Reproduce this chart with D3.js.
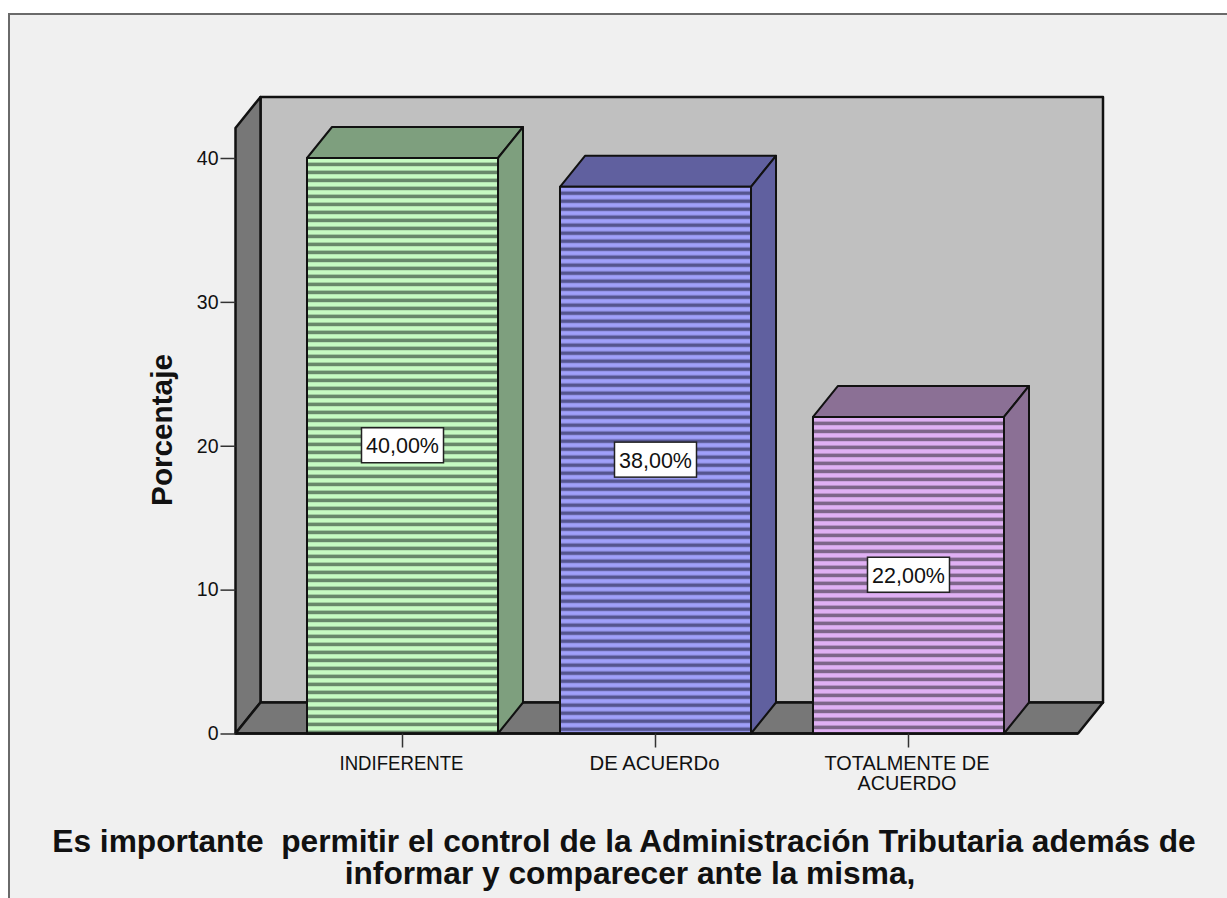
<!DOCTYPE html>
<html><head><meta charset="utf-8">
<script src="https://cdn.jsdelivr.net/npm/d3@7"></script>
<style>html,body{margin:0;padding:0;background:#fff}svg{display:block}text{font-family:"Liberation Sans",Arial,sans-serif}</style>
</head><body><div id="c"></div>
<script>
const categories=["INDIFERENTE","DE ACUERDo","TOTALMENTE DE ACUERDO"];
const categoryLines=[["INDIFERENTE"],["DE ACUERDo"],["TOTALMENTE DE","ACUERDO"]];
const categoryLineWidths=[[124],[130],[165,99]];
const values=[40,38,22];
const valueLabels=["40,00%","38,00%","22,00%"];
const yTicks=[0,10,20,30,40];
const lightColors=["#c6fac2","#a0a0fa","#e0b0f4"];
const darkColors=["#68876a","#55558f","#7d6589"];
const sideColors=["#7e9f7e","#60609f","#8b7095"];
const titleLines=["Es importante  permitir el control de la Administración Tributaria además de","informar y comparecer ante la misma,"];
const titleCenters=[624,630];
const yTitle="Porcentaje";

const W=1227,H=898,dx=25,dy=-31;
const svg=d3.select("#c").append("svg").attr("width",W).attr("height",H);
svg.append("rect").attr("x",9).attr("y",14).attr("width",W).attr("height",H).attr("fill","#f0f0f0").attr("stroke","#6a6a6a").attr("stroke-width",2);

const y=d3.scaleLinear().domain([0,40]).range([733.5,158]);
const x=d3.scaleBand().domain(categories).range([243.75,1067.25]).paddingInner(0.245).paddingOuter(0.25);
const frontL=235.5,frontR=1078,yTopFront=128;
const st="#111";
const poly=(pts,fill,sw=2)=>svg.append("polygon").attr("points",pts.map(p=>p.join(",")).join(" ")).attr("fill",fill).attr("stroke",st).attr("stroke-width",sw).attr("stroke-linejoin","round");

const defs=svg.append("defs");
categories.forEach((c,i)=>{
  const p=defs.append("pattern").attr("id","st"+i).attr("patternUnits","userSpaceOnUse").attr("width",8).attr("height",8).attr("y",y(values[i])+1);
  p.append("rect").attr("width",8).attr("height",8).attr("fill",lightColors[i]);
  p.append("rect").attr("y",3.6).attr("width",8).attr("height",3.6).attr("fill",darkColors[i]);
});

// walls
const b0=y(0), t0=yTopFront, backR=W-124;
poly([[frontL+dx,t0+dy],[backR,t0+dy],[backR,b0+dy],[frontL+dx,b0+dy]],"#c0c0c0",2.5);
poly([[frontL,t0],[frontL+dx,t0+dy],[frontL+dx,b0+dy],[frontL,b0]],"#777777",2.5);
poly([[frontL,b0],[frontL+dx,b0+dy],[backR,b0+dy],[frontR,b0]],"#777777",2.5);

// bars
categories.forEach((c,i)=>{
  const l=x(c),r=l+x.bandwidth(),t=y(values[i]);
  poly([[l,t],[l+dx,t+dy],[r+dx,t+dy],[r,t]],sideColors[i]);
  poly([[r,t],[r+dx,t+dy],[r+dx,b0+dy],[r,b0]],sideColors[i]);
  poly([[l,t],[r,t],[r,b0],[l,b0]],`url(#st${i})`);
});
svg.append("line").attr("x1",frontL).attr("x2",frontR).attr("y1",b0).attr("y2",b0).attr("stroke",st).attr("stroke-width",2.5);

// y axis
const ya=svg.append("g").attr("transform",`translate(${frontL},0)`).call(d3.axisLeft(y).tickValues(yTicks).tickSize(15).tickPadding(2).tickFormat(d3.format("d")));
ya.select(".domain").remove();
ya.selectAll("line").attr("stroke","#333").attr("stroke-width",1.5);
ya.selectAll("text").attr("font-size",19.5).attr("fill","#111").style("font-family",'"Liberation Sans",Arial,sans-serif');
svg.append("text").attr("transform","translate(171.5,430) rotate(-90)").attr("text-anchor","middle").attr("font-size",29.7).attr("font-weight","bold").attr("fill","#111").text(yTitle);

// x axis
categories.forEach((c,i)=>{
  const cx=x(c)+x.bandwidth()/2;
  svg.append("line").attr("x1",cx).attr("x2",cx).attr("y1",b0).attr("y2",b0+14).attr("stroke","#333").attr("stroke-width",1.5);
  categoryLines[i].forEach((s,j)=>svg.append("text").attr("x",cx+(i===2?-1.5:-1)).attr("y",770+j*20).attr("text-anchor","middle").attr("font-size",19.5).attr("fill","#111").attr("textLength",categoryLineWidths[i][j]).attr("lengthAdjust","spacingAndGlyphs").text(s));
});

// value labels
categories.forEach((c,i)=>{
  const cx=x(c)+x.bandwidth()/2, cy=y(values[i]/2);
  svg.append("rect").attr("x",cx-41).attr("y",cy-18).attr("width",82).attr("height",35).attr("fill","#fff").attr("stroke","#222").attr("stroke-width",1.5);
  svg.append("text").attr("x",cx).attr("y",cy+7.5).attr("text-anchor","middle").attr("font-size",21.5).attr("fill","#111").text(valueLabels[i]);
});

// title
titleLines.forEach((s,j)=>svg.append("text").attr("x",titleCenters[j]).attr("y",852+j*32).attr("text-anchor","middle").attr("font-size",31.7).attr("font-weight","bold").attr("fill","#111").style("white-space","pre").text(s));
</script></body></html>
